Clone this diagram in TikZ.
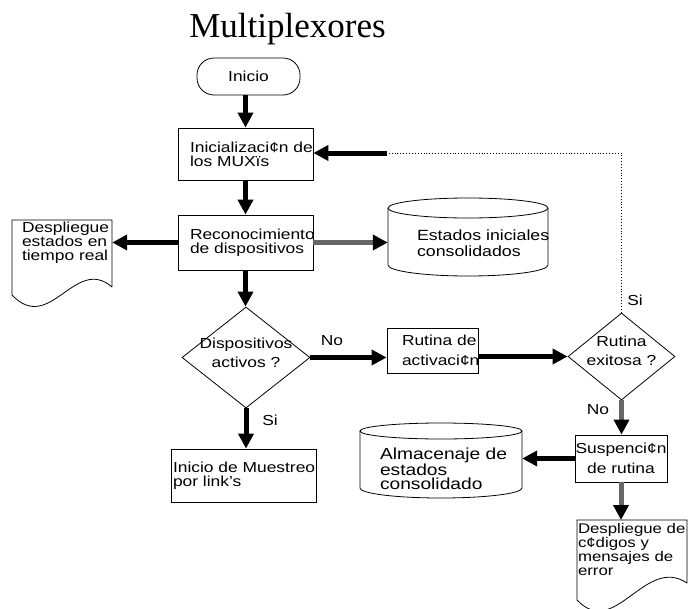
\documentclass[tikz,border=0pt]{standalone}
\usepackage{fontspec}
\setmainfont{Liberation Sans}[FakeStretch=1.2]
\newfontfamily\titlefont{Liberation Serif}
\usetikzlibrary{arrows.meta,shapes.geometric,calc}
\begin{document}
\begin{tikzpicture}[x=1pt,y=1pt]
\tikzset{
 outl/.style={draw, line width=0.8pt},
 txt/.style={font=\fontsize{14.5}{14}\selectfont, align=left},
 procbox/.style={outl, rectangle, inner sep=0pt, txt},
 decision/.style={outl, diamond, inner sep=0pt},
 arr/.style={line width=5pt, -{Triangle[length=15pt,width=15pt]}},
 arrg/.style={line width=5pt, draw=black!60, -{Triangle[length=15pt,width=15pt,color=black]}},
 fbline/.style={line width=0.9pt, dotted},
 lbl/.style={font=\fontsize{14.5}{14}\selectfont, inner sep=0pt},
}
\fill[white] (0,0) rectangle (688,-608);
\useasboundingbox (0,0) rectangle (688,-608);

% title
\node[font={\titlefont\fontsize{35}{35}\selectfont}, anchor=base, inner sep=0pt] (title) at (287.5,-37) {Multiplexores};

% main column
\node[procbox, minimum width=103, minimum height=37, rounded corners=17pt] (inicio) at (248.5,-76.5) {Inicio};
\node[procbox, minimum width=135, minimum height=52, text width=111] (inic) at (245.5,-154) {\mbox{Inicializaci¢n de}\\\mbox{los MUXïs}};
\node[procbox, minimum width=135, minimum height=55, text width=111] (recon) at (245.5,-242.5) {\mbox{Reconocimiento}\\\mbox{de dispositivos}};

% document 1
\draw[outl] (112,-287) -- (112,-220) -- (12,-220) -- (12,-295) .. controls (50,-335) and (75,-255) .. (112,-287);
\node[txt, text width=80, inner xsep=10pt, inner ysep=1.5pt, anchor=north] (desp1) at (62,-220) {\mbox{Despliegue}\\\mbox{estados en}\\\mbox{tiempo real}};

% cylinder 1
\draw[outl] (388,-208) -- (388,-265) arc[start angle=180,end angle=360,x radius=80,y radius=11] -- (548,-208);
\draw[outl] (468,-208) ellipse[x radius=80,y radius=10];
\node[txt, text width=102, minimum width=160, inner sep=0pt, font=\fontsize{14.8}{16}\selectfont] (estados) at (468,-243) {\mbox{Estados iniciales}\\\mbox{consolidados}};

% decision 1
\node[decision, minimum width=128, minimum height=101,
  label={[lbl, align=center, yshift=5pt, font=\fontsize{14.5}{19}\selectfont]center:Dispositivos\\activos ?}] (diam1) at (246,-357.5) {};
\node[lbl] (no1) at (332,-341) {No};
\node[lbl] (si1) at (270,-420) {Si};

\node[procbox, minimum width=91, minimum height=45, text width=61, font=\fontsize{14.5}{20}\selectfont] (rutact) at (432.5,-350.5) {\mbox{Rutina de}\\\mbox{activaci¢n}};

% decision 2
\node[decision, minimum width=107, minimum height=87,
  label={[lbl, align=center, yshift=6pt, font=\fontsize{14.5}{19}\selectfont]center:Rutina\\exitosa ?}] (rexit) at (621.5,-356.5) {};
\node[lbl] (si2) at (635,-300) {Si};
\node[lbl] (no2) at (598,-410) {No};

\node[procbox, minimum width=92, minimum height=47, align=center, font=\fontsize{14.5}{20}\selectfont] (susp) at (621,-458.5) {Suspenci¢n\\de rutina};

% cylinder 2
\draw[outl] (360,-431) -- (360,-488) arc[start angle=180,end angle=360,x radius=81,y radius=10] -- (522,-431);
\draw[outl] (441,-431) ellipse[x radius=81,y radius=8];
\node[txt, text width=122, minimum width=162, inner sep=0pt, font=\fontsize{16}{14.5}\selectfont] (alm) at (441,-469) {\mbox{Almacenaje de}\\\mbox{estados}\\\mbox{consolidado}};

% document 2
\draw[outl] (687,-583) -- (687,-520) -- (577,-520) -- (577,-600) .. controls (615,-640) and (645,-555) .. (687,-583);
\node[txt, text width=106, inner xsep=2pt, inner ysep=3pt, anchor=north, font=\fontsize{14}{14}\selectfont] (desp2) at (631,-520) {\mbox{Despliegue de}\\\mbox{c¢digos y}\\\mbox{mensajes de}\\\mbox{error}};

\node[procbox, minimum width=145, minimum height=53, text width=141] (inimue) at (243.5,-475.5) {\mbox{Inicio de Muestreo}\\\mbox{por link's}};

\coordinate (fb) at (387,-153);

% connectors
\draw[arr] (inicio.south -| inic.north) -- (inic.north);
\draw[arr] (inic.south) -- (recon.north);
\draw[arr] (recon.west) -- (recon.west -| desp1.east);
\draw[arrg] (recon.east) -- (recon.east -| estados.west);
\draw[arr] (recon.south) -- (recon.south |- diam1.north);
\draw[arr] (diam1.east) -- (diam1.east -| rutact.west);
\draw[arr] (rutact.east |- rexit.west) -- (rexit.west);
\draw[arrg] (rexit.south) -- (rexit.south |- susp.north);
\draw[arr] (susp.west) -- (susp.west -| alm.east);
\draw[arrg] (susp.south) -- (susp.south |- desp2.north);
\draw[arr] (diam1.south) -- (diam1.south |- inimue.north);
\draw[fbline] (rexit.north) -- (rexit.north |- fb) -- (fb);
\draw[arr] (fb) -- (fb -| inic.east);
\end{tikzpicture}
\end{document}
